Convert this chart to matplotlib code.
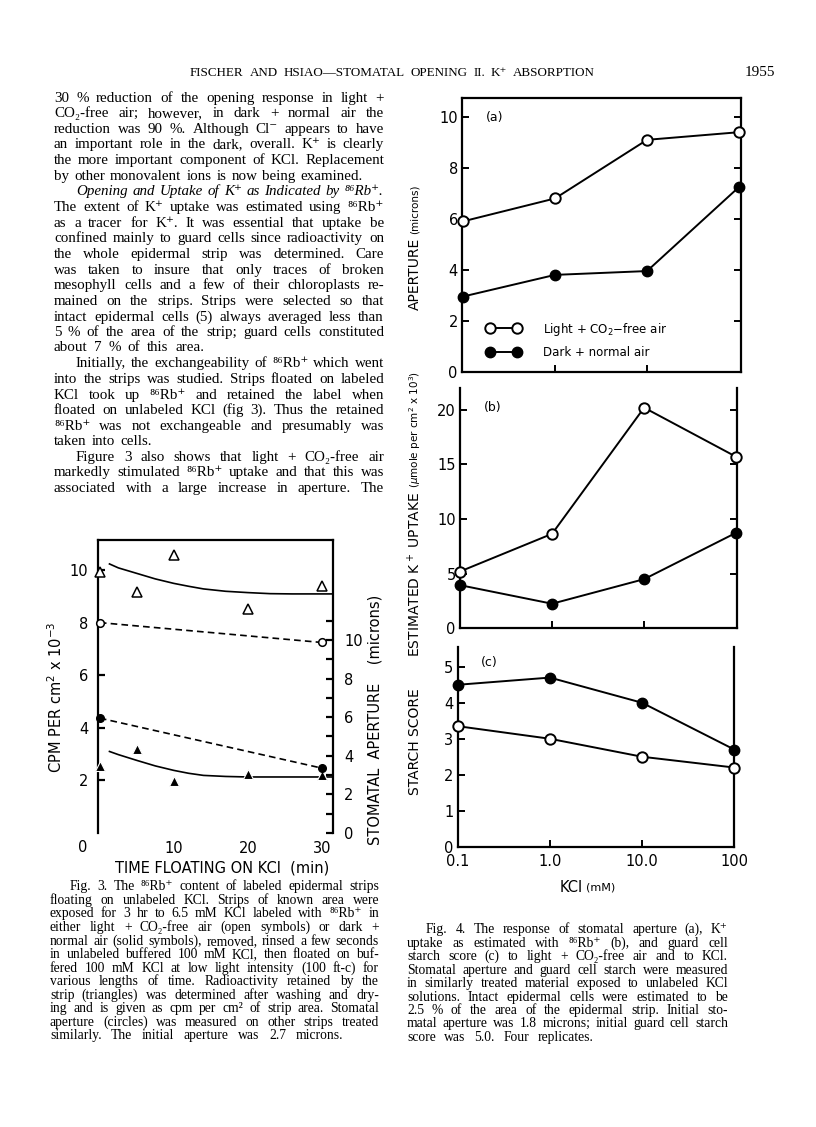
import matplotlib
matplotlib.use('Agg')
import matplotlib.pyplot as plt
from matplotlib.ticker import NullLocator
from matplotlib.legend_handler import HandlerLine2D
from matplotlib.lines import Line2D

# ---- fig 3 data (time floating on KCl, min) ----
t_tri = [0, 5, 10, 20, 30]
cpm_light = [9.94, 9.17, 10.56, 8.53, 9.41]
cpm_dark = [2.55, 3.21, 1.99, 2.23, 2.19]
fit_t = [1.3, 2.5, 5, 7.5, 10, 12, 14, 17, 20, 23, 26, 31.5]
fit_light = [10.23, 10.08, 9.87, 9.66, 9.49, 9.38, 9.28, 9.19, 9.14, 9.10, 9.09, 9.09]
fit_dark = [3.10, 2.98, 2.76, 2.55, 2.38, 2.27, 2.19, 2.15, 2.13, 2.13, 2.13, 2.13]
t_circ = [0, 30]
ap3_light = [10.9, 9.87]
ap3_dark = [5.95, 3.36]

# ---- fig 4 data (KCl, mM) ----
kcl = [0.1, 1.0, 10.0, 100]
ap_light = [5.9, 6.8, 9.1, 9.4]
ap_dark = [2.95, 3.8, 3.95, 7.25]
up_light = [5.2, 8.65, 20.2, 15.7]
up_dark = [3.95, 2.25, 4.5, 8.75]
st_light = [3.35, 3.0, 2.5, 2.2]
st_dark = [4.5, 4.7, 4.0, 2.7]
kcl_labels = ['0.1', '1.0', '10.0', '100']

W, H = 816, 1127
fig = plt.figure(figsize=(W / 100, H / 100), dpi=100)
rend = fig.canvas.get_renderer()
SERIF = ['Liberation Serif', 'DejaVu Serif']
SANS = ['DejaVu Sans']


def box(l, t, r, b):
    return [l / W, 1 - b / H, (r - l) / W, (b - t) / H]


def line(s, x0, y, size, x1, style='normal'):
    # justify words between x0 and x1, shrinking the font if they don't fit
    words = s.split()
    objs = [fig.text(0, 1 - y / H, w, fontsize=size, family=SERIF,
                     style=style, va='baseline') for w in words]
    ws = [o.get_window_extent(rend).width for o in objs]
    gap = (x1 - x0 - sum(ws)) / max(len(words) - 1, 1)
    if gap < 3:
        k = (x1 - x0 - 3 * (len(words) - 1)) / sum(ws)
        for o in objs:
            o.set_fontsize(size * k)
        ws = [o.get_window_extent(rend).width for o in objs]
        gap = (x1 - x0 - sum(ws)) / max(len(words) - 1, 1)
    x = x0
    for o, w in zip(objs, ws):
        o.set_x(x / W)
        x += w + gap


def vlabel(parts, x, ybot, gap=4):
    y = ybot
    for s, size in parts:
        t = fig.text(x / W, 1 - y / H, s, fontsize=size, family=SANS,
                     rotation=90, ha='center', va='bottom')
        y -= t.get_window_extent(rend).height + gap


# ---- header ----
line('FISCHER AND HSIAO—STOMATAL OPENING II. K⁺ ABSORPTION', 190, 76, 9.4, 595)
fig.text(745 / W, 1 - 76 / H, '1955', fontsize=11, family=SERIF, va='baseline')

# ---- left column body text: (text, left, right) ----
body = [
    ('30 % reduction of the opening response in light +', 54, 384, 'normal'),
    ('CO₂-free air; however, in dark + normal air the', 54, 384, 'normal'),
    ('reduction was 90 %.  Although Cl⁻ appears to have', 54, 384, 'normal'),
    ('an important role in the dark, overall. K⁺ is clearly', 54, 384, 'normal'),
    ('the more important component of KCl.  Replacement', 54, 384, 'normal'),
    ('by other monovalent ions is now being examined.', 54, 363, 'normal'),
    ('Opening and Uptake of K⁺ as Indicated by ⁸⁶Rb⁺.', 76, 383, 'italic'),
    ('The extent of K⁺ uptake was estimated using ⁸⁶Rb⁺', 54, 384, 'normal'),
    ('as a tracer for K⁺.  It was essential that uptake be', 54, 384, 'normal'),
    ('confined mainly to guard cells since radioactivity on', 54, 384, 'normal'),
    ('the whole epidermal strip was determined.  Care', 54, 384, 'normal'),
    ('was taken to insure that only traces of broken', 54, 384, 'normal'),
    ('mesophyll cells and a few of their chloroplasts re-', 54, 384, 'normal'),
    ('mained on the strips.  Strips were selected so that', 54, 384, 'normal'),
    ('intact epidermal cells (5) always averaged less than', 54, 384, 'normal'),
    ('5 % of the area of the strip; guard cells constituted', 54, 384, 'normal'),
    ('about 7 % of this area.', 54, 204, 'normal'),
    ('Initially, the exchangeability of ⁸⁶Rb⁺ which went', 76, 384, 'normal'),
    ('into the strips was studied.  Strips floated on labeled', 54, 384, 'normal'),
    ('KCl took up ⁸⁶Rb⁺ and retained the label when', 54, 384, 'normal'),
    ('floated on unlabeled KCl (fig 3).  Thus the retained', 54, 384, 'normal'),
    ('⁸⁶Rb⁺ was not exchangeable and presumably was', 54, 384, 'normal'),
    ('taken into cells.', 54, 152, 'normal'),
    ('Figure 3 also shows that light + CO₂-free air', 76, 384, 'normal'),
    ('markedly stimulated ⁸⁶Rb⁺ uptake and that this was', 54, 384, 'normal'),
    ('associated with a large increase in aperture.  The', 54, 384, 'normal'),
]
body_y = [98, 113.3, 129, 144.3, 160, 175.7, 190.7, 206.7, 222.7, 238.3, 254,
          270, 285.3, 301.3, 316.7, 332.3, 347.3, 363.3, 379, 394.7, 410,
          425.7, 441, 456.7, 472, 488]
for (s, x0, x1, st), y in zip(body, body_y):
    line(s, x0, y + 4, 10.8, x1, style=st)

# ---- fig 3 caption ----
cap3 = [
    ('Fig. 3.  The ⁸⁶Rb⁺ content of labeled epidermal strips', 70, 379),
    ('floating on unlabeled KCl.  Strips of known area were', 50, 379),
    ('exposed for 3 hr to 6.5 mM KCl labeled with ⁸⁶Rb⁺ in', 50, 379),
    ('either light + CO₂-free air (open symbols) or dark +', 50, 379),
    ('normal air (solid symbols), removed, rinsed a few seconds', 50, 379),
    ('in unlabeled buffered 100 mM KCl, then floated on buf-', 50, 379),
    ('fered 100 mM KCl at low light intensity (100 ft-c) for', 50, 379),
    ('various lengths of time.  Radioactivity retained by the', 50, 379),
    ('strip (triangles) was determined after washing and dry-', 50, 379),
    ('ing and is given as cpm per cm² of strip area. Stomatal', 50, 379),
    ('aperture (circles) was measured on other strips treated', 50, 379),
    ('similarly.  The initial aperture was 2.7 microns.', 50, 343),
]
cap3_y = [886, 900, 913.3, 927.3, 941, 954.3, 967.7, 981, 995, 1008.3, 1021.7, 1035]
for (s, x0, x1), y in zip(cap3, cap3_y):
    line(s, x0, y + 4, 9.8, x1)

# ---- fig 4 caption ----
cap4 = [
    ('Fig. 4.  The response of stomatal aperture (a), K⁺', 426, 728),
    ('uptake as estimated with ⁸⁶Rb⁺ (b), and guard cell', 407, 728),
    ('starch score (c) to light + CO₂-free air and to KCl.', 407, 728),
    ('Stomatal aperture and guard cell starch were measured', 407, 728),
    ('in similarly treated material exposed to unlabeled KCl', 407, 728),
    ('solutions.  Intact epidermal cells were estimated to be', 407, 728),
    ('2.5 % of the area of the epidermal strip.  Initial sto-', 407, 728),
    ('matal aperture was 1.8 microns; initial guard cell starch', 407, 728),
    ('score was 5.0.  Four replicates.', 407, 594),
]
cap4_y = [929.3, 942.7, 956, 970, 983.3, 996.7, 1010, 1023.3, 1036.7]
for (s, x0, x1), y in zip(cap4, cap4_y):
    line(s, x0, y + 4, 9.8, x1)

# ---- fig 3 ----
LW = 1.6
ax3 = fig.add_axes(box(98, 540, 333, 833))
ax3.set_xlim(-0.25, 31.5)
ax3.set_ylim(0, 11.14)
for sp in ['bottom', 'right']:
    ax3.spines[sp].set_visible(False)
for sp in ['left', 'top']:
    ax3.spines[sp].set_linewidth(LW)
ax3.set_yticks([2, 4, 6, 8, 10])
ax3.set_xticks([10, 20, 30])
ax3.tick_params(axis='y', direction='in', length=5, width=LW, labelsize=10.5, pad=7)
ax3.tick_params(axis='x', length=0, labelsize=10.5, pad=6)
for lab in ax3.get_xticklabels() + ax3.get_yticklabels():
    lab.set_family(SANS)
ax3.text(-2.3, -0.048, '0', transform=ax3.get_xaxis_transform(),
         fontsize=10.5, ha='center', va='center', family=SANS)
ax3.plot(fit_t, fit_light, color='black', lw=1.2, clip_on=False)
ax3.plot(fit_t, fit_dark, color='black', lw=1.2, clip_on=False)
ax3.plot(t_tri, cpm_light, ls='none', marker='^', ms=7, mfc='white', mec='black',
         mew=1.1, clip_on=False, zorder=5)
ax3.plot(t_tri, cpm_dark, ls='none', marker='^', ms=7, mfc='black', mec='white',
         mew=0.8, clip_on=False, zorder=5)

ax3r = ax3.twinx()
ax3r.set_ylim(0, 15.18)
for sp in ['bottom', 'left', 'top']:
    ax3r.spines[sp].set_visible(False)
ax3r.spines['right'].set_linewidth(LW)
ax3r.set_yticks(range(0, 12))
ax3r.set_yticklabels([str(v) if v % 2 == 0 else '' for v in range(0, 12)])
ax3r.tick_params(axis='y', direction='in', length=5, width=LW, labelsize=10.5, pad=8)
for lab in ax3r.get_yticklabels():
    lab.set_family(SANS)
ax3r.plot(t_circ, ap3_light, color='black', lw=1.2, ls=(0, (4, 2.5)), marker='o',
          ms=5.5, mfc='white', mec='black', mew=1.1, clip_on=False)
ax3r.plot(t_circ, ap3_dark, color='black', lw=1.2, ls=(0, (4, 2.5)), marker='o',
          ms=5.5, mfc='black', mec='black', clip_on=False)

fig.text(222 / W, 1 - 868 / H, 'TIME FLOATING ON KCl  (min)', fontsize=10.5,
         family=SANS, ha='center', va='center')
fig.text(56 / W, 1 - 697 / H, 'CPM PER cm$^2$ x 10$^{-3}$', fontsize=10.5,
         family=SANS, rotation=90, ha='center', va='center')
fig.text(375 / W, 1 - 720 / H, 'STOMATAL  APERTURE    (microns)', fontsize=10.5,
         family=SANS, rotation=90, ha='center', va='center')

# ---- fig 4 ----
MS = 7.5
panels = [
    (box(462, 98.3, 741, 371.7), (0.0975, 105), (0, 10.73), [0, 2, 4, 6, 8, 10],
     ap_light, ap_dark, '(a)', True, True),
    (box(460, 388, 737, 628.3), (0.1, 102), (0, 22.0), [0, 5, 10, 15, 20],
     up_light, up_dark, '(b)', False, True),
    (box(457.7, 647, 734.3, 846.7), (0.1, 100), (0, 5.55), [0, 1, 2, 3, 4, 5],
     st_light, st_dark, '(c)', False, False),
]
axes4 = []
for rect, xl, yl, yt, yo, yd, tag, top, rticks in panels:
    ax = fig.add_axes(rect)
    ax.set_xscale('log')
    ax.set_xlim(*xl)
    ax.set_ylim(*yl)
    ax.spines['top'].set_visible(top)
    for sp in ax.spines.values():
        sp.set_linewidth(LW)
    ax.set_yticks(yt)
    ax.tick_params(axis='y', direction='in', length=5, width=1.4, labelsize=10.5,
                   pad=3, right=rticks)
    ax.set_xticks([1, 10])
    ax.xaxis.set_minor_locator(NullLocator())
    ax.tick_params(axis='x', direction='in', length=5, width=1.4, labelbottom=False)
    for lab in ax.get_yticklabels():
        lab.set_family(SANS)
    ax.plot(kcl, yo, color='black', lw=1.4, marker='o', ms=MS, mfc='white',
            mec='black', mew=1.4, clip_on=False, zorder=4)
    ax.plot(kcl, yd, color='black', lw=1.4, marker='o', ms=MS, mfc='black',
            mec='black', clip_on=False, zorder=4)
    ax.text(0.085, 0.93 if top else 0.92, tag, transform=ax.transAxes, fontsize=9,
            family=SANS, va='center')
    axes4.append(ax)

axc = axes4[2]
axc.set_xticks(kcl)
axc.set_xticklabels(kcl_labels)
axc.tick_params(axis='x', labelbottom=True, labelsize=10.5, pad=5)
for lab in axc.get_xticklabels():
    lab.set_family(SANS)

axa = axes4[0]
h1 = Line2D([], [], color='black', lw=1.4, marker='o', ms=MS, mfc='white', mec='black', mew=1.4)
h2 = Line2D([], [], color='black', lw=1.4, marker='o', ms=MS, mfc='black', mec='black')
leg = axa.legend([h1, h2], ['Light + CO$_2$$-$free air', 'Dark + normal air'],
                 loc='lower left', bbox_to_anchor=(0.057, 0.045), frameon=False,
                 numpoints=2, handlelength=4.4, handletextpad=1.1, labelspacing=0.75,
                 borderpad=0, borderaxespad=0, prop={'family': SANS, 'size': 8.5},
                 handler_map={Line2D: HandlerLine2D(marker_pad=1.05)})

vlabel([('APERTURE', 10), ('(microns)', 7.5)], 415, 310)
vlabel([('ESTIMATED K$^+$ UPTAKE', 10), ('($\\mu$mole per cm$^2$ x 10$^3$)', 7.5)], 415, 657)
vlabel([('STARCH SCORE', 10)], 415, 795)
fig.text(583 / W, 1 - 888 / H, 'KCl', fontsize=10.5, family=SANS, ha='right', va='center')
fig.text(586 / W, 1 - 888 / H, '(mM)', fontsize=8, family=SANS, ha='left', va='center')

fig.savefig('out.png', dpi=100)
